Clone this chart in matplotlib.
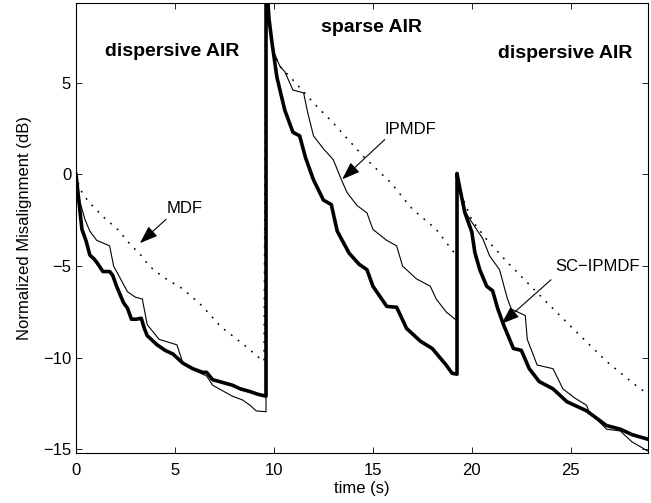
import numpy as np
import matplotlib
matplotlib.use('Agg')
import matplotlib.pyplot as plt

plt.rcParams['font.family'] = ['Liberation Sans', 'DejaVu Sans']

# SC-IPMDF (thick solid)
sc_x = [0, 0.15, 0.3, 0.5, 0.7, 0.9, 1.05, 1.36, 1.7, 1.85, 2.05, 2.4, 2.6, 2.8, 3.05, 3.3,
        3.45, 3.6, 4.1, 4.5, 4.9, 5.1, 5.4, 5.9, 6.4, 6.6, 6.9, 7.4, 7.9, 8.3, 8.8, 9.2, 9.6,
        9.6, 9.75, 9.9, 10.15, 10.55, 10.96, 11.3, 11.6, 12.0, 12.5, 12.9, 13.2, 13.8, 14.3,
        14.7, 15.0, 15.7, 16.2, 16.7, 17.4, 18.0, 18.7, 19.0, 19.25,
        19.25, 19.4, 19.65, 20.0, 20.15, 20.4, 20.75, 21.05, 21.3, 21.6, 22.1, 22.5, 22.9,
        23.4, 24.1, 24.8, 25.8, 26.8, 27.5, 28.1, 28.9]
sc_y = [0, -1.5, -3.0, -3.6, -4.4, -4.6, -4.8, -5.3, -5.3, -5.5, -6.1, -7.0, -7.3, -7.9, -7.9, -7.85,
        -8.4, -8.8, -9.3, -9.6, -9.8, -10.0, -10.3, -10.6, -10.8, -10.8, -11.2, -11.35, -11.5, -11.7, -11.85, -12.0, -12.1,
        11.0, 8.5, 7.2, 5.3, 3.5, 2.3, 2.1, 0.9, -0.3, -1.4, -1.65, -3.1, -4.3, -4.9,
        -5.2, -6.1, -7.2, -7.25, -8.4, -9.1, -9.5, -10.4, -10.85, -10.9,
        0.05, -0.8, -2.1, -3.15, -4.25, -5.2, -6.1, -6.35, -7.3, -8.2, -9.5, -9.6, -10.6,
        -11.3, -11.7, -12.4, -12.9, -13.7, -13.9, -14.2, -14.45]

# IPMDF (thin solid)
ip_x = [0, 0.2, 0.45, 0.7, 1.05, 1.7, 1.9, 2.2, 2.6, 3.0, 3.35, 3.6, 4.2, 4.8, 5.1, 5.4, 6.0,
        6.6, 6.9, 7.4, 7.9, 8.4, 8.8, 9.1, 9.6,
        9.6, 9.8, 9.95, 10.3, 10.55, 10.96, 11.5, 11.7, 12.0, 12.5, 13.0, 13.4, 13.7, 14.2,
        14.7, 15.0, 15.7, 16.2, 16.5, 17.2, 17.9, 18.2, 18.7, 19.15, 19.25,
        19.25, 19.4, 19.65, 19.9, 20.55, 20.9, 21.4, 21.8, 22.0, 22.7, 22.8, 23.3, 24.1,
        24.6, 25.2, 25.8, 25.9, 26.8, 27.5, 28.1, 28.9]
ip_y = [0, -1.5, -2.45, -3.1, -3.6, -3.9, -5.0, -5.6, -6.4, -6.7, -6.8, -8.2, -9.0, -9.2, -9.3, -10.3, -10.7,
        -11.0, -11.5, -11.8, -12.1, -12.3, -12.6, -12.9, -12.95,
        11.0, 8.0, 6.8, 5.9, 5.6, 4.6, 4.45, 3.4, 2.1, 1.4, 0.8, -0.27, -1.0, -1.7,
        -2.1, -3.0, -3.6, -3.9, -5.0, -5.7, -6.1, -6.8, -7.5, -7.9, -7.9,
        0.05, -0.8, -2.0, -2.45, -3.5, -4.45, -5.2, -6.8, -7.35, -7.7, -9.0, -10.4, -10.6,
        -11.7, -12.2, -12.6, -12.9, -13.9, -14.0, -14.6, -15.1]

# MDF (dotted)
mdf_x = [0, 0.2, 0.6, 1.36, 2.1, 2.8, 3.2, 3.7, 4.4, 5.4, 6.4, 7.3, 7.9, 8.6, 9.3, 9.5,
         9.6, 9.8, 10.0, 10.3, 10.96, 12.0, 13.0, 14.5, 15.9, 17.0, 18.2, 19.05, 19.25,
         19.25, 19.5, 20.0, 20.75, 21.8, 22.8, 23.8, 25.1, 26.8, 28.5, 28.9]
mdf_y = [0, -0.8, -1.45, -2.3, -3.0, -3.9, -4.3, -5.0, -5.6, -6.25, -7.2, -8.3, -8.8, -9.4, -10.05, -10.2,
         11.0, 8.0, 6.6, 5.9, 5.15, 3.9, 2.8, 1.0, -0.45, -1.9, -3.0, -4.2, -4.3,
         0.05, -1.2, -2.5, -3.55, -4.8, -5.9, -7.0, -8.4, -10.2, -11.7, -11.95]

fig = plt.figure(figsize=(6.51, 5.03), dpi=100)
ax = fig.add_axes([76 / 651, 50 / 503, 572 / 651, 450 / 503])

ax.plot(mdf_x, mdf_y, color='k', lw=1.1, linestyle=(0, (1.2, 4.5)))
ax.plot(ip_x, ip_y, color='k', lw=0.8)
ax.plot(sc_x, sc_y, color='k', lw=2.6, solid_joinstyle='round')

ax.set_xlim(0, 28.9)
ax.set_ylim(-15.2, 9.35)
ax.set_xticks([0, 5, 10, 15, 20, 25])
ax.set_yticks([-15, -10, -5, 0, 5])
ax.tick_params(direction='in', top=True, right=True, length=4, width=0.6, labelsize=12)
ax.tick_params(axis='x', pad=7)
for s in ax.spines.values():
    s.set_linewidth(0.8)

ax.set_xlabel('time (s)', fontsize=12, labelpad=2)
ax.set_ylabel('Normalized Misalignment (dB)', fontsize=12, labelpad=8)

ax.text(4.85, 6.7, 'dispersive AIR', fontsize=14, fontweight='bold', ha='center', va='center')
ax.text(14.95, 8.0, 'sparse AIR', fontsize=14, fontweight='bold', ha='center', va='center')
ax.text(24.7, 6.6, 'dispersive AIR', fontsize=14, fontweight='bold', ha='center', va='center')

arrow = dict(arrowstyle='-|>,head_length=1.1,head_width=0.4', color='k', lw=0.8, shrinkA=0, shrinkB=0)
ax.text(5.5, -1.85, 'MDF', fontsize=12, ha='center', va='center')
ax.annotate('', xy=(3.23, -3.75), xytext=(4.55, -2.45), arrowprops=arrow)
ax.text(16.9, 2.45, 'IPMDF', fontsize=12, ha='center', va='center')
ax.annotate('', xy=(13.45, -0.27), xytext=(15.6, 1.9), arrowprops=arrow)
ax.text(26.35, -5.0, 'SC\u2212IPMDF', fontsize=12, ha='center', va='center')
ax.annotate('', xy=(21.5, -8.15), xytext=(24.0, -5.75), arrowprops=arrow)

fig.savefig('out.png', dpi=100)
